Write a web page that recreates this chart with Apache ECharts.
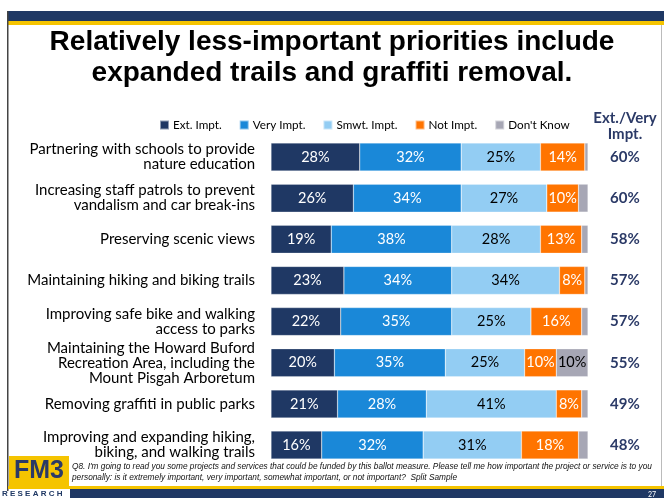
<!DOCTYPE html>
<html><head><meta charset="utf-8">
<script src="https://cdn.jsdelivr.net/npm/echarts@6/dist/echarts.min.js"></script>
<style>html,body{margin:0;padding:0;background:#fff}#c{width:664px;height:498px}</style>
</head><body><div id="c"></div>
<script>
const categories = [
  "Partnering with schools to provide\nnature education",
  "Increasing staff patrols to prevent\nvandalism and car break-ins",
  "Preserving scenic views",
  "Maintaining hiking and biking trails",
  "Improving safe bike and walking\naccess to parks",
  "Maintaining the Howard Buford\nRecreation Area, including the\nMount Pisgah Arboretum",
  "Removing graffiti in public parks",
  "Improving and expanding hiking,\nbiking, and walking trails"
];
const extImpt   = [28, 26, 19, 23, 22, 20, 21, 16];
const veryImpt  = [32, 34, 38, 34, 35, 35, 28, 32];
const smwtImpt  = [25, 27, 28, 34, 25, 25, 41, 31];
const notImpt   = [14, 10, 13,  8, 16, 10,  8, 18];
const dontKnow  = [ 1,  3,  2,  1,  2, 10,  2,  3];
const extVery   = ["60%", "60%", "58%", "57%", "57%", "55%", "49%", "48%"];
const seriesNames = ["Ext. Impt.", "Very Impt.", "Smwt. Impt.", "Not Impt.", "Don't Know"];
const colors = ["#1F3864", "#1A88D8", "#93CDF3", "#FF7400", "#A7A7B5"];
const labelColors = ["#fff", "#fff", "#000", "#fff", "#000"];

const chart = echarts.init(document.getElementById('c'), null, {renderer: 'canvas'});
const FONT = 'Lato';
const dataSets = [extImpt, veryImpt, smwtImpt, notImpt, dontKnow];
const series = dataSets.map((d, i) => ({
  name: seriesNames[i],
  type: 'bar',
  stack: 'total',
  barWidth: 28,
  data: d,
  itemStyle: {color: colors[i], borderColor: 'rgba(255,255,255,0.5)', borderWidth: 0.5},
  label: {
    show: true, position: 'inside', color: labelColors[i], fontFamily: FONT, fontSize: 14.5,
    formatter: p => (i === 4 && p.value < 5) ? '' : p.value + '%'
  }
}));

chart.setOption({
  animation: false,
  color: colors,
  title: {
    text: 'Relatively less-important priorities include\nexpanded trails and graffiti removal.',
    left: 'center', top: 22,
    textStyle: {fontFamily: 'Liberation Sans', fontWeight: 'bold', fontSize: 28, lineHeight: 31, color: '#000'}
  },
  legend: {
    left: 154, top: 114, itemWidth: 9, itemHeight: 9, itemGap: 17, icon: 'rect',
    data: seriesNames,
    textStyle: {fontFamily: FONT, fontSize: 11.7, color: '#000', padding: [0, 0, 0, -1]}
  },
  grid: {left: 271, right: 76, top: 136.4, bottom: 32.4, containLabel: false},
  xAxis: {type: 'value', min: 0, max: 100, show: false},
  yAxis: [{
    type: 'category', data: categories, inverse: true,
    axisLine: {show: false}, axisTick: {show: false},
    axisLabel: {margin: 16, fontFamily: FONT, fontSize: 15, lineHeight: 15, color: '#000', align: 'right'}
  }, {
    type: 'category', data: extVery, inverse: true, position: 'right',
    axisLine: {show: false}, axisTick: {show: false},
    axisLabel: {margin: 22, fontFamily: FONT, fontSize: 15, fontWeight: 'bold', color: '#2B3A67', align: 'left'}
  }],
  series: series,
  graphic: [
    {type: 'rect', shape: {x: 8, y: 11, width: 656, height: 10}, style: {fill: '#1F3864'}},
    {type: 'rect', shape: {x: 8, y: 21, width: 656, height: 4}, style: {fill: '#F5C400'}},
    {type: 'rect', shape: {x: 7, y: 11, width: 1.5, height: 480}, style: {fill: '#444'}},
    {type: 'rect', shape: {x: 661, y: 25, width: 1, height: 465}, style: {fill: '#bbb'}},
    {type: 'text', style: {text: 'Ext./Very\nImpt.', x: 625, y: 110, textAlign: 'center', fontFamily: FONT, fontWeight: 'bold', fontSize: 15, lineHeight: 16, fill: '#2B3A67'}},
    {type: 'rect', shape: {x: 8, y: 486, width: 656, height: 3}, style: {fill: '#F5C400'}},
    {type: 'rect', shape: {x: 70, y: 489, width: 594, height: 9}, style: {fill: '#1F3864'}},
    {type: 'rect', shape: {x: 9, y: 456, width: 60, height: 30}, style: {fill: '#F5C400'}},
    {type: 'text', style: {text: 'FM3', x: 39, y: 459, textAlign: 'center', fontFamily: 'Liberation Sans', fontWeight: 'bold', fontSize: 25, fill: '#2B3A67'}},
    {type: 'text', style: {text: 'R E S E A R C H', x: 2, y: 490, fontFamily: 'Liberation Sans', fontWeight: 'bold', fontSize: 8, fill: '#1F3864'}},
    {type: 'text', style: {text: "Q8. I'm going to read you some projects and services that could be funded by this ballot measure. Please tell me how important the project or service is to you\npersonally: is it extremely important, very important, somewhat important, or not important?  Split Sample", x: 72, y: 461, fontFamily: 'Liberation Sans', fontStyle: 'italic', fontSize: 8.3, lineHeight: 11, fill: '#111'}},
    {type: 'text', style: {text: '27', x: 648, y: 491, fontFamily: FONT, fontSize: 7, fill: '#fff'}}
  ]
});
</script></body></html>
